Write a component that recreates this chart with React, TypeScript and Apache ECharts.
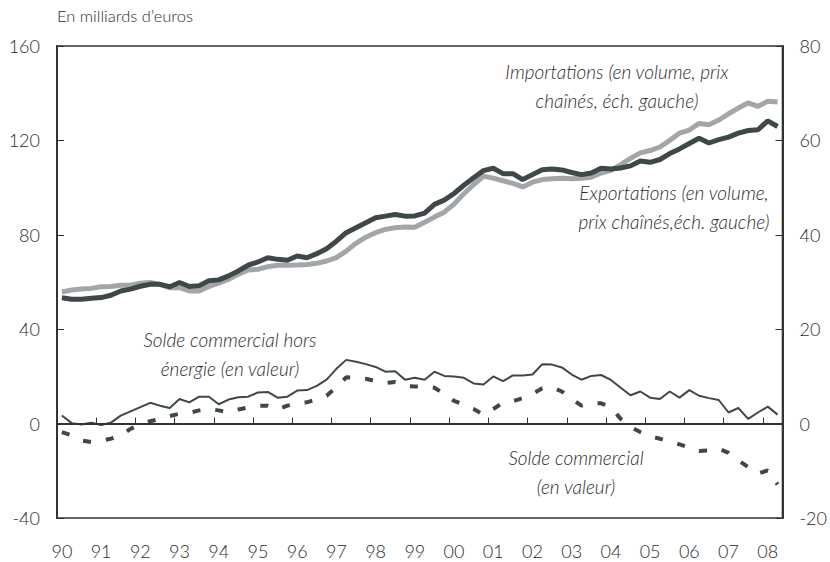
import React, { useEffect, useRef } from "react";
import * as echarts from "echarts";

const years = ["90","91","92","93","94","95","96","97","98","99","00","01","02","03","04","05","06","07","08"];
const quarters: string[] = [];
years.forEach((y) => { for (let q = 1; q <= 4; q++) quarters.push(y + "T" + q); });
const categories = quarters.slice(0, 74);

const importations = [
  55.8, 56.6, 57.0, 57.3, 58.0, 58.1, 58.6, 58.6, 59.5, 59.8,
  59.0, 57.6, 57.6, 56.2, 56.2, 58.1, 59.5, 61.2, 63.3, 65.1,
  65.4, 66.5, 67.1, 67.1, 67.2, 67.4, 67.9, 68.9, 70.3, 73.1,
  76.4, 79.0, 80.9, 82.3, 83.0, 83.3, 83.2, 85.3, 87.5, 89.6,
  93.0, 97.4, 101.3, 104.8, 104.0, 102.9, 101.8, 100.3, 102.3, 103.4,
  103.7, 104.0, 103.7, 104.0, 104.4, 106.2, 107.3, 109.7, 112.4, 114.7,
  115.7, 117.2, 120.0, 123.1, 124.4, 127.2, 126.6, 128.6, 131.3, 133.7,
  135.9, 134.4, 136.6, 136.3
];

const exportations = [
  53.3, 52.7, 52.7, 53.1, 53.4, 54.4, 56.2, 57.0, 58.2, 59.0,
  59.0, 58.0, 59.8, 58.1, 58.4, 60.5, 60.9, 62.6, 64.7, 67.1,
  68.5, 70.3, 69.6, 69.2, 71.0, 70.3, 72.0, 74.1, 77.3, 80.9,
  83.0, 85.1, 87.2, 87.9, 88.6, 87.9, 88.0, 89.2, 92.9, 94.7,
  97.5, 101.0, 104.2, 107.2, 108.2, 105.9, 105.9, 103.4, 105.5, 107.6,
  107.9, 107.5, 106.4, 105.5, 106.2, 108.2, 107.9, 108.3, 109.2, 111.3,
  110.7, 111.9, 114.4, 116.4, 118.7, 120.9, 118.9, 120.3, 121.4, 123.1,
  124.2, 124.5, 128.3, 125.9
];

const soldeHorsEnergie = [
  1.7, 0.1, -0.2, 0.2, -0.3, 0.2, 1.7, 2.6, 3.5, 4.4,
  3.8, 3.3, 5.2, 4.5, 5.7, 5.7, 4.1, 5.1, 5.6, 5.7,
  6.6, 6.7, 5.5, 5.7, 7.0, 7.1, 8.0, 9.3, 11.6, 13.5,
  13.1, 12.6, 12.0, 11.0, 11.1, 9.3, 9.7, 9.3, 11.0, 10.1,
  10.0, 9.7, 8.5, 8.3, 10.0, 9.0, 10.2, 10.2, 10.4, 12.6,
  12.5, 11.9, 10.4, 9.3, 10.1, 10.3, 9.25, 7.6, 6.0, 6.8,
  5.5, 5.2, 6.8, 5.5, 7.1, 5.9, 5.4, 5.0, 2.35, 3.3,
  1.0, 2.35, 3.6, 1.9
];

const soldeCommercial = [
  -1.8, -2.5, -3.6, -3.9, -3.6, -3.2, -2.5, -1.1, -0.2, 0.5,
  1.0, 1.6, 2.1, 2.3, 2.8, 3.1, 2.8, 2.4, 3.0, 3.4,
  3.8, 3.8, 3.0, 3.8, 4.3, 4.5, 5.2, 5.9, 7.7, 9.8,
  9.7, 9.5, 9.0, 8.6, 8.8, 8.0, 7.85, 7.9, 7.6, 6.3,
  4.8, 4.0, 3.1, 1.9, 3.1, 4.4, 4.75, 5.4, 6.3, 7.5,
  7.7, 6.8, 5.2, 3.8, 4.3, 4.3, 3.5, 1.0, -0.7, -1.8,
  -2.7, -3.2, -3.8, -4.4, -5.1, -5.8, -5.7, -5.3, -6.2, -7.8,
  -9.2, -10.6, -9.9, -12.9
];

const leftTicks = { min: -40, max: 160, interval: 40 };
const rightTicks = { min: -20, max: 80, interval: 20 };

const FONT = "Lato, 'Open Sans', sans-serif";
const DARK = "#3e4848";
const LIGHT = "#a2a6a9";
const AXIS = "#333333";
const TEXT = "#2b2b2b";

export default function App() {
  const ref = useRef<HTMLDivElement>(null);
  useEffect(() => {
    if (!ref.current) return;
    const chart = echarts.init(ref.current, null, { renderer: "svg" });
    const annot = (x: number, y: number, text: string) => ({
      type: "text",
      x,
      y,
      style: {
        text,
        fontFamily: FONT,
        fontStyle: "italic",
        fontWeight: 300,
        fontSize: 19,
        lineHeight: 29,
        fill: TEXT,
        textAlign: "center",
        textVerticalAlign: "middle",
      },
    });
    chart.setOption({
      animation: false,
      grid: {
        left: 57,
        right: 46,
        top: 46,
        bottom: 44,
        show: true,
        borderColor: AXIS,
        borderWidth: 1.5,
        backgroundColor: "transparent",
      },
      xAxis: {
        type: "category",
        data: categories,
        boundaryGap: true,
        axisLine: { show: true, lineStyle: { color: AXIS, width: 2 } },
        axisTick: {
          show: true,
          inside: true,
          length: 6,
          interval: 3,
          lineStyle: { color: AXIS, width: 1 },
        },
        axisLabel: {
          interval: 3,
          margin: 24,
          fontSize: 18,
          fontWeight: 300,
          fontFamily: FONT,
          color: TEXT,
          formatter: (v: string) => v.slice(0, 2),
        },
        splitLine: { show: false },
      },
      yAxis: [
        {
          type: "value",
          min: leftTicks.min,
          max: leftTicks.max,
          interval: leftTicks.interval,
          position: "left",
          axisLine: { show: true, lineStyle: { color: AXIS, width: 2 } },
          axisTick: { show: true, inside: true, length: 7, lineStyle: { color: AXIS } },
          axisLabel: { fontSize: 18, fontWeight: 300, fontFamily: FONT, color: TEXT, margin: 17 },
          splitLine: { show: false },
        },
        {
          type: "value",
          min: rightTicks.min,
          max: rightTicks.max,
          interval: rightTicks.interval,
          position: "right",
          axisLine: { show: true, lineStyle: { color: AXIS, width: 2 } },
          axisTick: { show: true, inside: true, length: 7, lineStyle: { color: AXIS } },
          axisLabel: { fontSize: 18, fontWeight: 300, fontFamily: FONT, color: TEXT, margin: 17 },
          splitLine: { show: false },
        },
      ],
      series: [
        {
          name: "Importations",
          type: "line",
          yAxisIndex: 0,
          data: importations,
          symbol: "none",
          lineStyle: { color: LIGHT, width: 5 },
          z: 3,
        },
        {
          name: "Exportations",
          type: "line",
          yAxisIndex: 0,
          data: exportations,
          symbol: "none",
          lineStyle: { color: DARK, width: 5 },
          z: 4,
        },
        {
          name: "Solde commercial hors énergie",
          type: "line",
          yAxisIndex: 1,
          data: soldeHorsEnergie,
          symbol: "none",
          lineStyle: { color: DARK, width: 2 },
          z: 4,
        },
        {
          name: "Solde commercial",
          type: "line",
          yAxisIndex: 1,
          data: soldeCommercial,
          symbol: "none",
          lineStyle: { color: DARK, width: 4, type: [8, 15] },
          z: 4,
          markLine: {
            silent: true,
            symbol: "none",
            label: { show: false },
            lineStyle: { color: AXIS, width: 2, type: "solid" },
            data: [{ yAxis: 0 }],
          },
        },
      ],
      graphic: [
        {
          type: "text",
          left: 57,
          top: 7,
          style: {
            text: "En milliards d’euros",
            fontFamily: FONT,
            fontWeight: 300,
            fontSize: 16.5,
            fill: TEXT,
          },
        },
        annot(617, 86, "Importations (en volume, prix\nchaînés, éch. gauche)"),
        annot(674, 207, "Exportations (en volume,\nprix chaînés,éch. gauche)"),
        annot(230, 354, "Solde commercial hors\nénergie (en valeur)"),
        annot(576, 472, "Solde commercial\n(en valeur)"),
      ],
    });
    return () => chart.dispose();
  }, []);
  return (
    <div
      ref={ref}
      style={{ position: "absolute", left: 0, top: 0, width: 830, height: 562 }}
    />
  );
}
